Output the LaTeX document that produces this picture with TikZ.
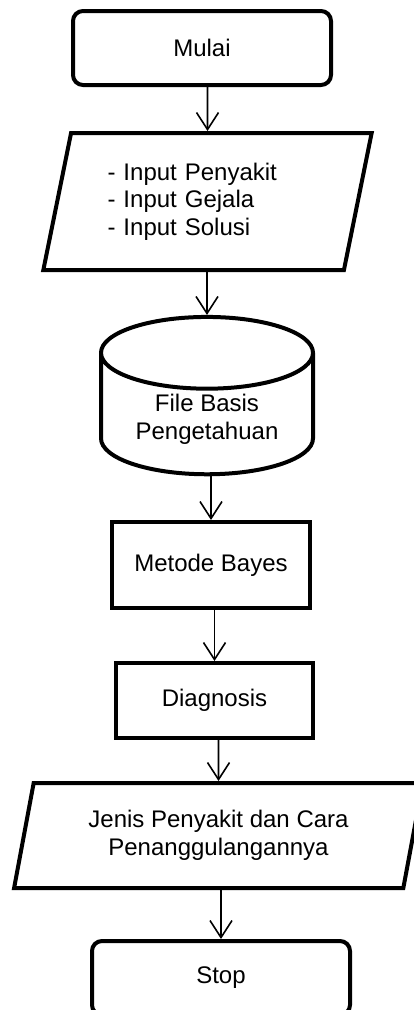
\documentclass[tikz,border=0pt]{standalone}
\usepackage{fontspec}
\setmainfont{Liberation Sans}
\usetikzlibrary{shapes.geometric, arrows.meta}

\tikzset{
    terminal/.style={draw, line width=4pt, rounded corners=10pt, minimum width=258pt, minimum height=74pt},
    process/.style={draw, line width=4pt, minimum width=198pt, minimum height=86pt},
    io/.style={draw, line width=4pt, trapezium, trapezium left angle=76, trapezium right angle=104,
        trapezium stretches=true, minimum height=137pt},
    database/.style={draw, line width=4pt, cylinder, shape border rotate=90, aspect=0.48,
        minimum width=212pt, minimum height=156pt},
    flow/.style={-{Straight Barb[length=17pt, width=22pt]}, line width=1.6pt},
}

\begin{document}
\begin{tikzpicture}[x=1pt, y=-1pt, font=\fontsize{24pt}{27.6pt}\selectfont]
    \useasboundingbox (0,0) rectangle (414,1010);
    \clip (0,0) rectangle (414,1010);

    \node[terminal] (mulai) at (202,48) {Mulai};
    \node[io, minimum width=329pt, text width=200pt, align=left] (input) at (207.5,201.5)
        {- Input Penyakit\\- Input Gejala\\- Input Solusi};
    \node[database, align=center] (db) at (207,419) {File Basis\\Pengetahuan};
    \node[process] (bayes) at (211,565) {Metode Bayes};
    \node[process, minimum width=197pt, minimum height=75pt] (diag) at (214.5,700.5) {Diagnosis};
    \node[io, minimum width=409pt, minimum height=105pt, align=center] (output) at (218.5,835.5)
        {Jenis Penyakit dan Cara\\Penanggulangannya};
    \node[terminal] (stop) at (221,978) {Stop};

    \draw[flow] (mulai.south -| input) -- (input);
    \draw[flow] (input.south -| db) -- (db);
    \draw[flow] (db.south -| bayes) -- (bayes);
    \draw[flow] (bayes.south -| diag) -- (diag);
    \draw[flow] (diag.south -| output) -- (output);
    \draw[flow] (output.south -| stop) -- (stop);
\end{tikzpicture}
\end{document}
